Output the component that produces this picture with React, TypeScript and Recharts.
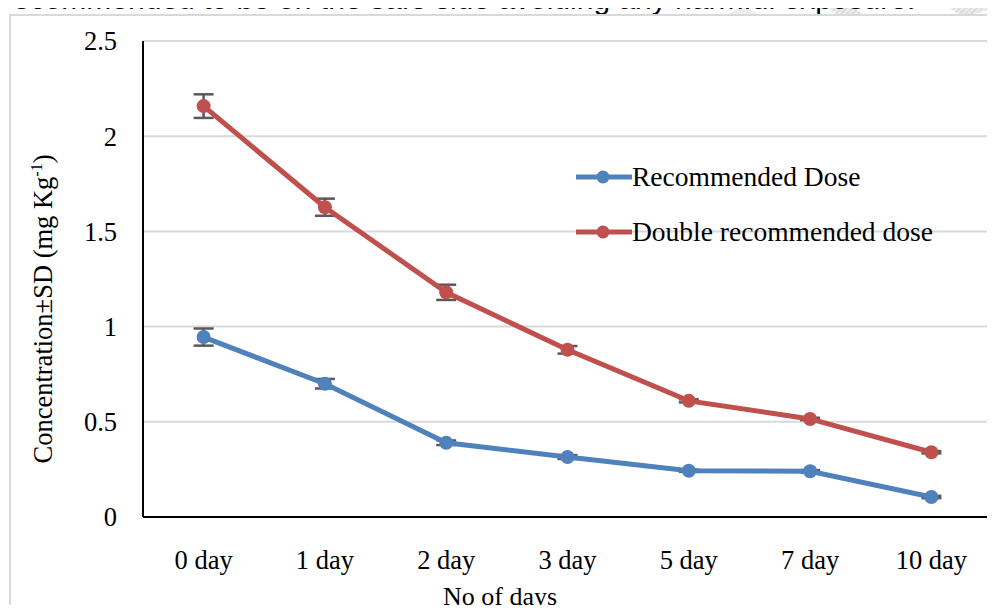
import { LineChart, Line, XAxis, YAxis, CartesianGrid, ErrorBar } from "recharts";

const days = ["0 day", "1 day", "2 day", "3 day", "5 day", "7 day", "10 day"];
const recommended = [0.945, 0.7, 0.39, 0.315, 0.243, 0.24, 0.105];
const recommendedSd = [0.045, 0.025, 0.012, 0.01, 0.006, 0.006, 0.006];
const doubleDose = [2.158, 1.627, 1.18, 0.878, 0.61, 0.515, 0.34];
const doubleSd = [0.062, 0.045, 0.04, 0.02, 0.008, 0.006, 0.006];
const yTicks = [0, 0.5, 1, 1.5, 2, 2.5];

const BLUE = "#4f81bd";
const RED = "#c0504d";
const SERIF = "'Liberation Serif', 'Times New Roman', serif";

const series = [
  { name: "Recommended Dose", color: BLUE },
  { name: "Double recommended dose", color: RED },
];

const data = days.map((d, i) => ({
  day: d,
  rec: recommended[i],
  recErr: recommendedSd[i],
  dbl: doubleDose[i],
  dblErr: doubleSd[i],
}));

function LegendBox() {
  return (
    <div style={{ position: "absolute", left: 576, top: 160 }}>
      {series.map((s, i) => (
        <div key={s.name} style={{ display: "flex", alignItems: "center", height: 34, marginBottom: i === 0 ? 21 : 0 }}>
          <svg width={56} height={20}>
            <line x1={1} y1={10} x2={55} y2={10} stroke={s.color} strokeWidth={5} strokeLinecap="round" />
            <circle cx={27} cy={10} r={6.5} fill={s.color} />
          </svg>
          <span style={{ fontFamily: SERIF, fontSize: 27.5, color: "#000", whiteSpace: "nowrap" }}>{s.name}</span>
        </div>
      ))}
    </div>
  );
}

export default function App() {
  return (
    <div style={{ position: "relative", width: 995, height: 613, overflow: "hidden", margin: -8, background: "#fff" }}>
      {/* page background: watermark scrap and the cut-off line of body text above the figure */}
      <svg width={995} height={40} style={{ position: "absolute", left: 0, top: 0 }}>
        <defs>
          <pattern id="hatch" width={4} height={4} patternUnits="userSpaceOnUse" patternTransform="rotate(45)">
            <rect width={4} height={4} fill="#ececec" />
            <line x1={0} y1={0} x2={0} y2={4} stroke="#c8c8c8" strokeWidth={1.5} />
          </pattern>
        </defs>
        <polygon points="820,0 846,0 862,14 836,14" fill="url(#hatch)" />
        <polygon points="940,0 995,0 995,8 974,14 958,14" fill="url(#hatch)" />
        <polygon points="740,6 760,14 730,14" fill="#eeeeee" />
        <text x={3} y={8.5} fontFamily="'Liberation Sans', Arial, sans-serif" fontSize={30} fill="#000">
          recommended to be on the safe side avoiding any harmful exposure.
        </text>
      </svg>
      <div
        style={{
          position: "absolute",
          left: 9,
          top: 14,
          width: 1100,
          height: 800,
          border: "2px solid #d9d9d9",
          background: "#fff",
        }}
      />
      <div style={{ position: "absolute", left: 0, top: 0 }}>
        <LineChart width={995} height={613} data={data} margin={{ top: 41, right: 3, bottom: 0, left: 0 }}>
          <CartesianGrid vertical={false} stroke="#d9d9d9" strokeWidth={2} />
          <XAxis
            dataKey="day"
            padding={{ left: 60.6, right: 60.6 }}
            height={96}
            tickSize={0}
            tickMargin={33}
            axisLine={{ stroke: "#000", strokeWidth: 2 }}
            tick={{ fill: "#000", fontFamily: SERIF, fontSize: 26.5 }}
          />
          <YAxis
            domain={[0, 2.5]}
            ticks={yTicks}
            width={143}
            tickSize={0}
            tickMargin={26}
            axisLine={{ stroke: "#000", strokeWidth: 2 }}
            tick={{ fill: "#000", fontFamily: SERIF, fontSize: 26.5 }}
          />
          <Line
            dataKey="rec"
            name={series[0].name}
            stroke={BLUE}
            strokeWidth={5}
            dot={{ r: 7, fill: BLUE, stroke: BLUE, strokeWidth: 0 }}
            activeDot={false}
            isAnimationActive={false}
          >
            <ErrorBar dataKey="recErr" width={10} strokeWidth={2.5} stroke="#595959" direction="y" />
          </Line>
          <Line
            dataKey="dbl"
            name={series[1].name}
            stroke={RED}
            strokeWidth={5}
            dot={{ r: 7, fill: RED, stroke: RED, strokeWidth: 0 }}
            activeDot={false}
            isAnimationActive={false}
          >
            <ErrorBar dataKey="dblErr" width={10} strokeWidth={2.5} stroke="#595959" direction="y" />
          </Line>
        </LineChart>
      </div>
      <svg width={995} height={613} style={{ position: "absolute", left: 0, top: 0, pointerEvents: "none" }}>
        <text x={52} y={309} transform="rotate(-90 52 309)" textAnchor="middle" fontFamily={SERIF} fontSize={26.5} fill="#000">
          Concentration±SD (mg Kg
          <tspan dy={-10} fontSize={16}>-1</tspan>
          <tspan dy={10}>)</tspan>
        </text>
        <text x={500} y={605} textAnchor="middle" fontFamily={SERIF} fontSize={26} fill="#000">
          No of days
        </text>
      </svg>
      <LegendBox />
    </div>
  );
}
